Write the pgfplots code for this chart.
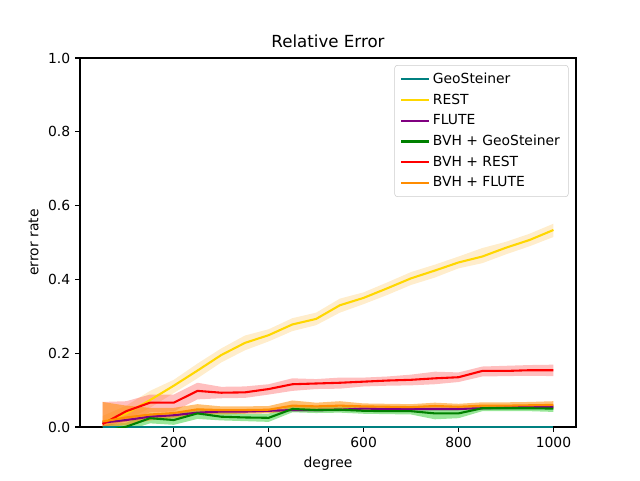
\documentclass[border=0pt]{standalone}
\usepackage{fontspec}
\setmainfont{DejaVu Sans}
\usepackage{pgfplots}
\usepackage{pgfplotstable}
\pgfplotsset{compat=1.18}
\usepgfplotslibrary{fillbetween}
\definecolor{cteal}{RGB}{0,128,128}
\definecolor{cgold}{RGB}{255,215,0}
\definecolor{cpurple}{RGB}{128,0,128}
\definecolor{cgreen}{RGB}{0,128,0}
\definecolor{cred}{RGB}{255,0,0}
\definecolor{corange}{RGB}{255,140,0}
\definecolor{bandorange}{RGB}{255,165,0}
\definecolor{limegreen}{RGB}{50,205,50}

% x  mean  low  high
\pgfplotstableread{
x m l h
50 0 0 0
100 0 0 0
150 0 0 0
200 0 0 0
250 0 0 0
300 0 0 0
350 0 0 0
400 0 0 0
450 0 0 0
500 0 0 0
550 0 0 0
600 0 0 0
650 0 0 0
700 0 0 0
750 0 0 0
800 0 0 0
850 0 0 0
900 0 0 0
950 0 0 0
1000 0 0 0
}\geo
\pgfplotstableread{
x m l h
50 0.012 0.000 0.030
100 0.037 0.018 0.058
150 0.073 0.052 0.098
200 0.112 0.092 0.128
250 0.153 0.132 0.172
300 0.195 0.175 0.213
350 0.228 0.208 0.248
400 0.249 0.232 0.265
450 0.278 0.260 0.295
500 0.293 0.276 0.310
550 0.330 0.310 0.348
600 0.350 0.333 0.365
650 0.376 0.358 0.392
700 0.403 0.385 0.420
750 0.424 0.405 0.440
800 0.446 0.430 0.462
850 0.462 0.444 0.485
900 0.486 0.468 0.502
950 0.507 0.490 0.524
1000 0.534 0.515 0.551
}\rest
\pgfplotstableread{
x m l h
50 0.012 0.008 0.016
100 0.019 0.014 0.024
150 0.028 0.023 0.033
200 0.032 0.027 0.037
250 0.039 0.034 0.044
300 0.042 0.037 0.047
350 0.042 0.037 0.047
400 0.044 0.039 0.049
450 0.046 0.041 0.051
500 0.046 0.041 0.051
550 0.047 0.042 0.052
600 0.050 0.045 0.055
650 0.049 0.044 0.054
700 0.049 0.044 0.054
750 0.049 0.044 0.054
800 0.049 0.044 0.054
850 0.051 0.046 0.056
900 0.053 0.048 0.058
950 0.055 0.050 0.060
1000 0.055 0.050 0.060
}\flute
\pgfplotstableread{
x m l h
50 -0.012 -0.030 0.005
100 0.001 -0.010 0.012
150 0.024 0.010 0.036
200 0.019 0.006 0.032
250 0.037 0.022 0.050
300 0.028 0.018 0.040
350 0.026 0.016 0.036
400 0.025 0.014 0.036
450 0.049 0.040 0.058
500 0.046 0.038 0.054
550 0.047 0.039 0.055
600 0.044 0.036 0.052
650 0.043 0.035 0.051
700 0.043 0.034 0.051
750 0.037 0.021 0.049
800 0.037 0.024 0.049
850 0.051 0.043 0.058
900 0.051 0.043 0.058
950 0.051 0.043 0.058
1000 0.050 0.041 0.058
}\bvhgeo
\pgfplotstableread{
x m l h
50 0.008 0.000 0.068
100 0.043 0.015 0.070
150 0.066 0.040 0.088
200 0.066 0.042 0.088
250 0.098 0.075 0.120
300 0.093 0.078 0.109
350 0.094 0.079 0.110
400 0.103 0.088 0.116
450 0.116 0.098 0.132
500 0.118 0.103 0.130
550 0.120 0.104 0.134
600 0.123 0.110 0.134
650 0.126 0.112 0.137
700 0.128 0.113 0.142
750 0.132 0.116 0.150
800 0.135 0.122 0.148
850 0.152 0.137 0.164
900 0.152 0.138 0.166
950 0.154 0.139 0.168
1000 0.154 0.138 0.169
}\bvhrest
\pgfplotstableread{
x m l h
50 0.015 0.000 0.068
100 0.026 0.005 0.058
150 0.034 0.018 0.052
200 0.038 0.024 0.052
250 0.048 0.034 0.062
300 0.046 0.034 0.056
350 0.046 0.036 0.056
400 0.047 0.037 0.057
450 0.058 0.045 0.072
500 0.056 0.046 0.066
550 0.058 0.046 0.070
600 0.056 0.047 0.064
650 0.055 0.047 0.063
700 0.054 0.046 0.062
750 0.057 0.047 0.066
800 0.055 0.047 0.063
850 0.058 0.049 0.067
900 0.058 0.050 0.067
950 0.059 0.050 0.068
1000 0.060 0.050 0.070
}\bvhflute

\begin{document}
\begin{tikzpicture}
\begin{axis}[
  scale only axis,
  width=357.1pt, height=265.7pt,
  xmin=2.5, xmax=1047.5, ymin=0, ymax=1,
  xtick={200,400,600,800,1000},
  ytick={0,0.2,0.4,0.6,0.8,1.0},
  xticklabel style={/pgf/number format/1000 sep={}},
  yticklabel style={/pgf/number format/.cd, fixed, fixed zerofill, precision=1},
  /pgf/number format/assume math mode=true,
  tick align=outside, tick pos=left,
  major tick length=3.5pt,
  every tick/.style={black, line width=0.8pt},
  axis line style={line width=0.8pt},
  tick label style={font=\fontsize{10}{12}\selectfont},
  xlabel={degree}, ylabel={error rate},
  label style={font=\fontsize{10}{12}\selectfont},
  title={Relative Error},
  title style={font=\fontsize{12}{14}\selectfont, yshift=-2pt},
  legend style={at={(0.985,0.981)}, anchor=north east, draw=black!20, rounded corners=2pt,
    font=\fontsize{10}{12}\selectfont, row sep=2pt, inner xsep=4pt, inner ysep=3.5pt},
  legend cell align=left,
  legend image code/.code={\draw[#1, line width=1.5pt] (0pt,0pt) -- (20pt,0pt);},
]
% bands
\addplot[name path=ah, draw=none, forget plot] table[x=x,y=h]{\geo};
\addplot[name path=al, draw=none, forget plot] table[x=x,y=l]{\geo};
\addplot[cteal, fill opacity=0.2, draw=none, forget plot] fill between[of=ah and al];
\addplot[name path=bh, draw=none, forget plot] table[x=x,y=h]{\rest};
\addplot[name path=bl, draw=none, forget plot] table[x=x,y=l]{\rest};
\addplot[bandorange, fill opacity=0.2, draw=none, forget plot] fill between[of=bh and bl];
\addplot[name path=ch, draw=none, forget plot] table[x=x,y=h]{\flute};
\addplot[name path=cl, draw=none, forget plot] table[x=x,y=l]{\flute};
\addplot[cpurple, fill opacity=0.2, draw=none, forget plot] fill between[of=ch and cl];
\addplot[name path=dh, draw=none, forget plot] table[x=x,y=h]{\bvhgeo};
\addplot[name path=dl, draw=none, forget plot] table[x=x,y=l]{\bvhgeo};
\addplot[limegreen, fill opacity=0.5, draw=none, forget plot] fill between[of=dh and dl];
\addplot[name path=eh, draw=none, forget plot] table[x=x,y=h]{\bvhrest};
\addplot[name path=el, draw=none, forget plot] table[x=x,y=l]{\bvhrest};
\addplot[cred, fill opacity=0.25, draw=none, forget plot] fill between[of=eh and el];
\addplot[name path=fh, draw=none, forget plot] table[x=x,y=h]{\bvhflute};
\addplot[name path=fl, draw=none, forget plot] table[x=x,y=l]{\bvhflute};
\addplot[corange, fill opacity=0.55, draw=none, forget plot] fill between[of=fh and fl];
% lines
\addplot[cteal, line width=1.5pt] table[x=x,y=m]{\geo};
\addlegendentry{GeoSteiner}
\addplot[cgold, line width=1.5pt] table[x=x,y=m]{\rest};
\addlegendentry{REST}
\addplot[cpurple, line width=1.5pt] table[x=x,y=m]{\flute};
\addlegendentry{FLUTE}
\addplot[cgreen, line width=1.5pt] table[x=x,y=m]{\bvhgeo};
\addlegendentry{BVH + GeoSteiner}
\addplot[cred, line width=1.5pt] table[x=x,y=m]{\bvhrest};
\addlegendentry{BVH + REST}
\addplot[corange, line width=1.5pt] table[x=x,y=m]{\bvhflute};
\addlegendentry{BVH + FLUTE}
\end{axis}
\useasboundingbox (current axis.south west) ++(-57.6pt,-38.16pt) rectangle ([xshift=46.08pt,yshift=41.76pt]current axis.north east);
\end{tikzpicture}
\end{document}
